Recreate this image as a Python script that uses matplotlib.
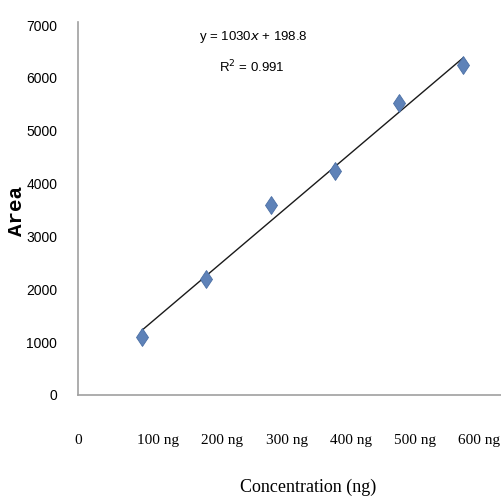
import matplotlib
matplotlib.use("Agg")
import matplotlib.pyplot as plt
import numpy as np

# data
x_pos = [1, 2, 3, 4, 5, 6]
areas = [1090, 2200, 3590, 4230, 5520, 6240]
slope = 1030
intercept = 198.8
x_tick_pos = [0, 1.25, 2.25, 3.25, 4.25, 5.25, 6.25]
x_tick_labels = ["0", "100 ng", "200 ng", "300 ng", "400 ng", "500 ng", "600 ng"]
y_ticks = [0, 1000, 2000, 3000, 4000, 5000, 6000, 7000]
equation = "y = 1030$\\mathit{x}$ + 198.8"
r2_text = "R$^2$ = 0.991"

NARROW = "Liberation Sans"

fig = plt.figure(figsize=(5.01, 4.96), dpi=100)
W, H = 501, 496
left, right, bottom, top = 78, 501, 395, 22
ax = fig.add_axes([left / W, 1 - bottom / H, (right - left) / W, (bottom - top) / H])

ax.set_xlim(0, 6.59)
ax.set_ylim(0, 7057)

# trendline
xl = np.array([x_pos[0], x_pos[-1]])
ax.plot(xl, slope * xl + intercept, color="#1a1a1a", lw=1.0, zorder=2)
# points
ax.plot(x_pos, areas, linestyle="none", marker="d", markersize=9.5,
        color="#5E82B8", markeredgecolor="#4A6FA5", markeredgewidth=0.6, zorder=3)

for s in ["top", "right"]:
    ax.spines[s].set_visible(False)
for s in ["left", "bottom"]:
    ax.spines[s].set_color("#a0a0a0")
    ax.spines[s].set_linewidth(1.2)

ax.set_yticks(y_ticks)
ax.set_yticklabels([str(v) for v in y_ticks], fontfamily=NARROW, fontsize=10)
ax.tick_params(axis="y", length=0, pad=15)
ax.set_xticks(x_tick_pos)
ax.set_xticklabels(x_tick_labels, fontfamily="Liberation Serif", fontsize=11)
ax.tick_params(axis="x", length=0, pad=28)

fig.text(17 / W, 1 - 211 / H, "Area", rotation=90, ha="center", va="center",
         fontfamily="Liberation Mono", fontweight="bold", fontsize=15)
fig.text(308 / W, 1 - 487 / H, "Concentration (ng)", ha="center", va="center",
         fontfamily="Liberation Serif", fontsize=13)

ax.text(253 / W, 1 - 37 / H, equation, transform=fig.transFigure, ha="center", va="center",
        fontfamily=NARROW, fontsize=9.5)
ax.text(252 / W, 1 - 67 / H, r2_text, transform=fig.transFigure, ha="center", va="center",
        fontfamily=NARROW, fontsize=9.5)

fig.savefig("out.png", dpi=100)
